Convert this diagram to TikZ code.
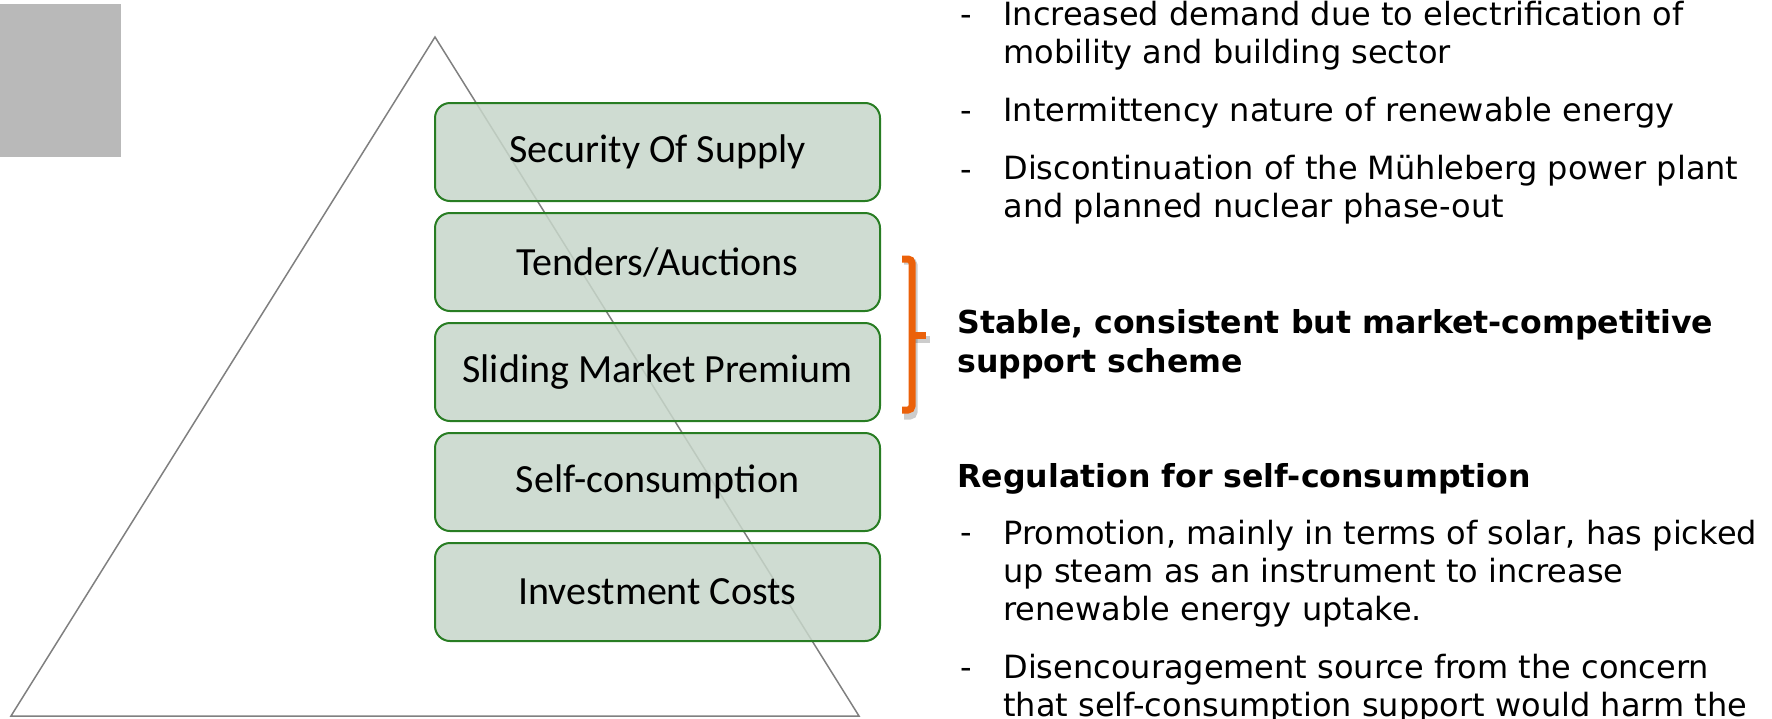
\documentclass[tikz,border=0pt]{standalone}
\usepackage{fontspec}
\setmainfont{Carlito}
\newfontfamily\verd{DejaVu Sans}
\usetikzlibrary{positioning}
\definecolor{boxfill}{RGB}{199,214,202}
\definecolor{boxline}{RGB}{40,125,35}
\definecolor{brorange}{RGB}{235,97,10}
\definecolor{pyrgray}{RGB}{128,128,128}
\definecolor{tabgray}{RGB}{185,185,185}
\tikzset{
  pyrbox/.style={draw=boxline, line width=1pt, fill=boxfill, fill opacity=.85, text opacity=1,
    rounded corners=7.5pt, minimum width=222.5pt, minimum height=49pt, inner sep=0pt,
    font=\fontsize{20}{24}\selectfont},
  bullet/.style={anchor=base west, inner sep=0pt, align=left, font=\verd\fontsize{16}{19}\selectfont},
  dashmark/.style={bullet},
  headline/.style={bullet, font=\verd\bfseries\fontsize{15.8}{19.5}\selectfont},
  bracket/.style={brorange, line width=3.5pt, rounded corners=2pt}
}
\begin{document}
\begin{tikzpicture}[x=0.5pt, y=-0.5pt]
\useasboundingbox (0,0) rectangle (1772,718);
\clip (0,0) rectangle (1772,718);
\fill[tabgray] (0,4) rectangle (121,157);
% pyramid
\draw[pyrgray, line width=0.75pt] (435,37) -- (859,716) -- (11,716) -- cycle;
\node[pyrbox] (sos) at (657.5,152) {Security Of Supply};
\node[pyrbox, below=5pt of sos] (tend) {Tenders/Auctions};
\node[pyrbox, below=5pt of tend] (slide) {Sliding Market Premium};
\node[pyrbox, below=5pt of slide] (self) {Self-consumption};
\node[pyrbox, below=5pt of self] (inv) {Investment Costs};
% bracket
\draw[bracket, black, opacity=.2] (904,261) -- (914,261) -- (914,416) -- (904,416);
\draw[bracket, black, opacity=.2] (914,339) -- (930,339);
\draw[bracket] (902,259) -- (912,259) -- (912,410) -- (902,410);
\draw[bracket] (912,335) -- (926,335);
% right text (base = last line)
\node[dashmark] (d1) at (960,25) {-};
\node[bullet] (b1) at (1003,63) {Increased demand due to electrification of\\mobility and building sector};
\node[dashmark] (d2) at (960,121) {-};
\node[bullet] (b2) at (1003,121) {Intermittency nature of renewable energy};
\node[dashmark] (d3) at (960,180) {-};
\node[bullet] (b3) at (1003,217) {Discontinuation of the Mühleberg power plant\\and planned nuclear phase-out};
\node[headline] (h1) at (957,372) {Stable, consistent but market-competitive\\support scheme};
\node[headline] (h2) at (957,487) {Regulation for self-consumption};
\node[dashmark] (d4) at (960,543) {-};
\node[bullet] (b4) at (1003,620) {Promotion, mainly in terms of solar, has picked\\up steam as an instrument to increase\\renewable energy uptake.};
\node[dashmark] (d5) at (960,678) {-};
\node[bullet] (b5) at (1003,716) {Disencouragement source from the concern\\that self-consumption support would harm the};
\end{tikzpicture}
\end{document}
